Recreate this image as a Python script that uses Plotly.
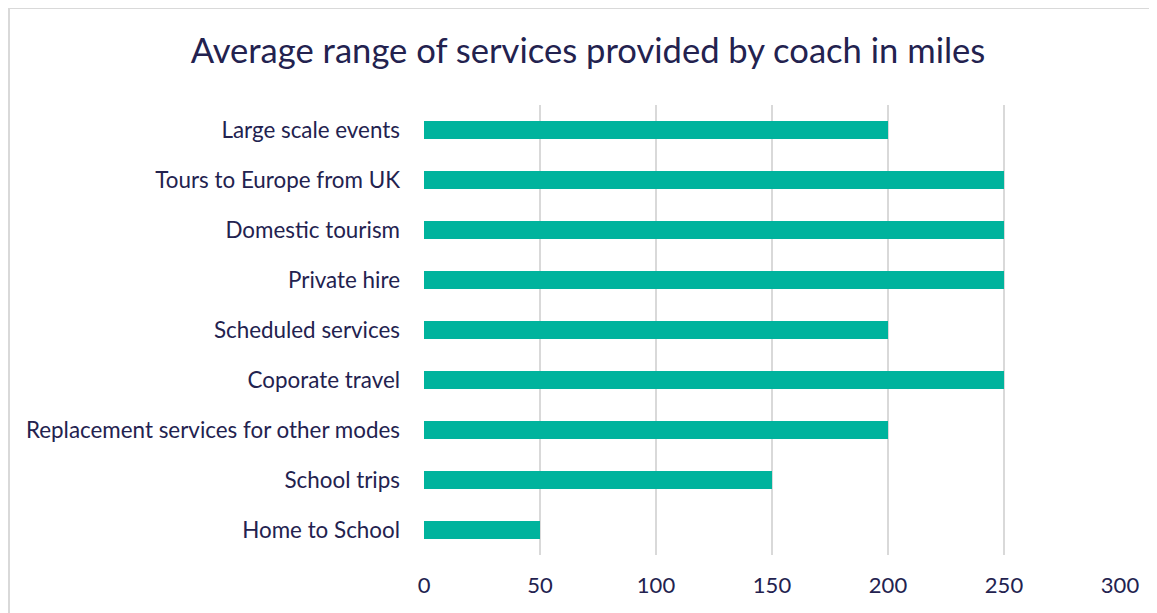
import plotly.graph_objects as go

categories = [
    "Home to School",
    "School trips",
    "Replacement services for other modes",
    "Coporate travel",
    "Scheduled services",
    "Private hire",
    "Domestic tourism",
    "Tours to Europe from UK",
    "Large scale events",
]
values = [50, 150, 200, 250, 200, 250, 250, 250, 200]
x_ticks = [0, 50, 100, 150, 200, 250, 300]

TEXT = "#23224F"
FONT = "Lato"

fig = go.Figure(
    go.Bar(
        x=values,
        y=categories,
        orientation="h",
        marker=dict(color="#00B39D", line=dict(width=0)),
        width=0.36,
    )
)

# page offset of 8px (body margin) is accounted for
W, H = 1157, 613
L, R, T, B = 416, 45, 97, 66
pw, ph = W - L - R, H - T - B

def px_x(p):
    return (p - L) / pw

def px_y(p):
    return 1 - (p - T) / ph

fig.update_layout(
    width=W,
    height=H,
    margin=dict(l=L, r=R, t=T, b=B),
    paper_bgcolor="white",
    plot_bgcolor="white",
    showlegend=False,
    title=dict(
        text="Average range of services provided by coach in miles",
        x=580 / W,
        xanchor="center",
        y=1 - 43 / H,
        yanchor="middle",
        font=dict(family=FONT, size=34.6, color=TEXT),
    ),
    xaxis=dict(
        range=[0, 300],
        tickvals=x_ticks,
        showgrid=True,
        gridcolor="#D9D9D9",
        gridwidth=2,
        zeroline=False,
        showline=False,
        ticks="",
        ticklabelstandoff=15,
        tickfont=dict(family=FONT, size=22, color=TEXT),
        fixedrange=True,
    ),
    yaxis=dict(
        categoryorder="array",
        categoryarray=categories,
        showgrid=False,
        zeroline=False,
        showline=False,
        ticks="",
        ticklabelstandoff=23,
        tickfont=dict(family=FONT, size=22.4, color=TEXT),
        fixedrange=True,
    ),
    shapes=[
        dict(type="line", xref="paper", yref="paper",
             x0=px_x(1), x1=px_x(1), y0=px_y(0), y1=px_y(640),
             line=dict(color="#D9D9D9", width=2)),
        dict(type="line", xref="paper", yref="paper",
             x0=px_x(0), x1=px_x(1200), y0=px_y(0), y1=px_y(0),
             line=dict(color="#D9D9D9", width=2)),
    ],
)

fig.write_html("out.html")
